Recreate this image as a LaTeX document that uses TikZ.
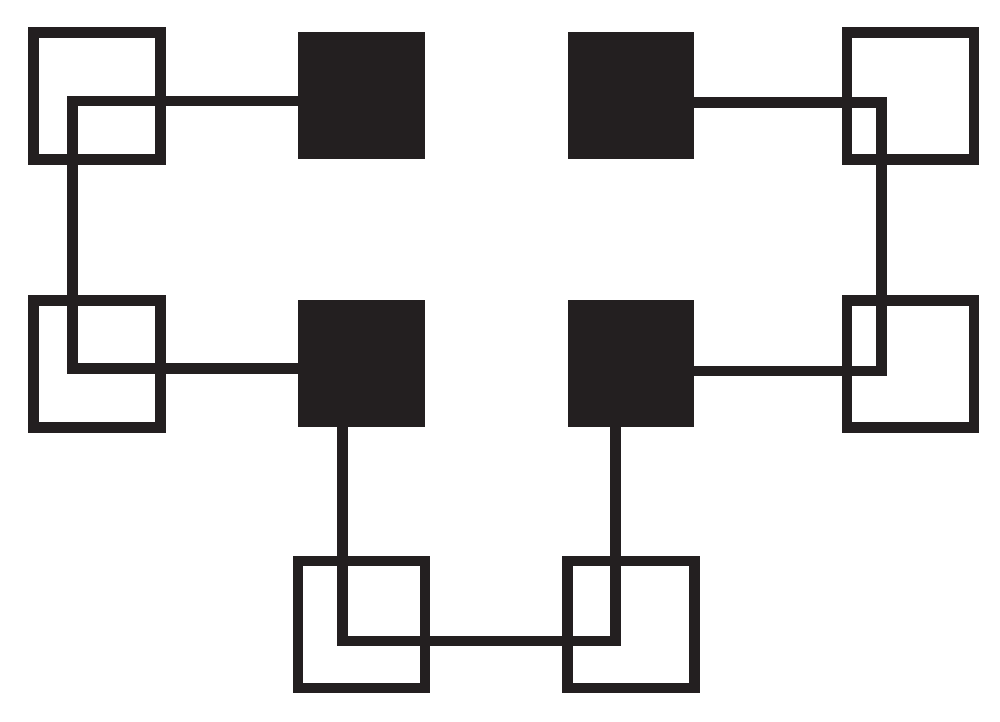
\documentclass[tikz,border=0pt]{standalone}
\usepackage{xcolor}
\usepackage{tikz}
\definecolor{SqInk}{RGB}{35,31,32}

\begin{document}
\begin{tikzpicture}[x=0.02cm, y=-0.02cm]
      \tikzset{
        cell/.style={draw=SqInk, line width=0.21cm, minimum size=2.54cm, inner sep=0pt, outer sep=0pt},
        core/.style={fill=SqInk, minimum size=2.54cm, inner sep=0pt, outer sep=0pt},
        wire/.style={draw=SqInk, line width=0.21cm, line join=miter}
      }
      \useasboundingbox (0,0) rectangle (1000,721);

      \node[cell] (tl) at (97,95.8) {};
      \node[cell] (ml) at (97,363.9) {};
      \node[cell] (tr) at (910.4,95.8) {};
      \node[cell] (mr) at (910.4,363.9) {};
      \node[cell] (bl) at (361.4,624.7) {};
      \node[cell] (br) at (631.2,624.7) {};

      \node[core] (ca) at (361.4,95.7) {};
      \node[core] (cb) at (631,95.7) {};
      \node[core] (cc) at (361.4,363.7) {};
      \node[core] (cd) at (631,363.7) {};

      \coordinate (wl1) at (72.5,101);
      \coordinate (wl2) at (72.5,368.7);
      \coordinate (wr1) at (881.7,102.5);
      \coordinate (wr2) at (881.7,371);
      \coordinate (wb1) at (342.5,641);
      \coordinate (wb2) at (615.7,641);

      \draw[wire] (ca.west |- wl1) -- (wl1) -- (wl2) -- (cc.west |- wl2);
      \draw[wire] (cb.east |- wr1) -- (wr1) -- (wr2) -- (cd.east |- wr2);
      \draw[wire] (cc.south -| wb1) -- (wb1) -- (wb2) -- (cd.south -| wb2);
    \end{tikzpicture}
\end{document}
